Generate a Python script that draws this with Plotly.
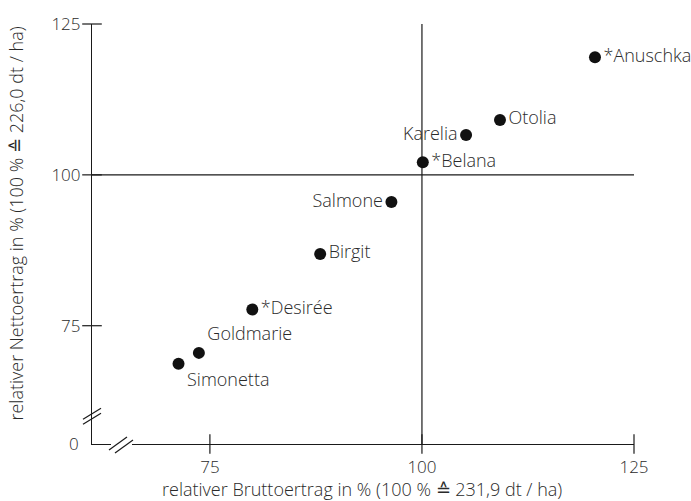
import plotly.graph_objects as go

names = ["*Anuschka", "Otolia", "Karelia", "*Belana", "Salmone", "Birgit",
         "*Desirée", "Goldmarie", "Simonetta"]
brutto = [120.4, 109.2, 105.2, 100.1, 96.4, 88.0, 80.0, 73.7, 71.3]
netto = [119.5, 109.1, 106.6, 102.1, 95.5, 86.9, 77.7, 70.5, 68.7]
label_pos = ["middle right", "middle right", "middle left", "middle right",
             "middle left", "middle right", "middle right", "top right",
             "bottom right"]
tick_vals = [75, 100, 125]

FONT = "Open Sans"
TXT = "#2a2a2a"
LINE = "#1a1a1a"
FS = 17

x_range = [61.1, 125]
y_range = [55.4, 125]

# plot area in px
L, R, T, B = 92, 634, 21, 444
W, H = 691, 501


def px(xp):
    return (xp - L) / (R - L)


def py(yp):
    return (B - yp) / (B - T)


fig = go.Figure()
fig.add_trace(go.Scatter(
    x=brutto, y=netto, mode="markers+text", text=names,
    textposition=label_pos,
    textfont=dict(family=FONT, size=18, color=TXT, weight=300),
    marker=dict(size=12, color="#111111"),
    cliponaxis=False, hoverinfo="skip", showlegend=False))

# tick marks crossing the axis lines (drawn as line markers on the axes)
fig.add_trace(go.Scatter(
    x=tick_vals, y=[y_range[0]] * len(tick_vals), mode="markers",
    marker=dict(symbol="line-ns", size=14,
                line=dict(color=LINE, width=1.2)),
    cliponaxis=False, hoverinfo="skip", showlegend=False))
fig.add_trace(go.Scatter(
    x=[x_range[0]] * len(tick_vals), y=tick_vals, mode="markers",
    marker=dict(symbol="line-ew", size=14,
                line=dict(color=LINE, width=1.2)),
    cliponaxis=False, hoverinfo="skip", showlegend=False))

axis_common = dict(showgrid=False, zeroline=False, tickvals=tick_vals,
                   ticks="outside", ticklen=7, tickcolor="rgba(0,0,0,0)",
                   showline=True, linecolor=LINE, linewidth=1.2,
                   tickfont=dict(family=FONT, size=FS, color=TXT, weight=300))

fig.update_layout(
    width=W, height=H,
    margin=dict(l=L, r=W - R, t=T, b=H - B),
    paper_bgcolor="white", plot_bgcolor="white",
    xaxis=dict(range=x_range, **axis_common),
    yaxis=dict(range=y_range, **axis_common),
)

# reference lines at 100 %
fig.add_hline(y=100, line=dict(color=LINE, width=1.2), layer="below")
fig.add_vline(x=100, line=dict(color=LINE, width=1.2), layer="below")

# axis break on x axis: white gap + two slashes
fig.add_shape(type="rect", xref="paper", yref="paper",
              x0=px(111), x1=px(132), y0=py(447), y1=py(441),
              fillcolor="white", line=dict(width=0), layer="above")
for dx in (0, 6):
    fig.add_shape(type="line", xref="paper", yref="paper",
                  x0=px(109 + dx), y0=py(450 + dx * 0.5),
                  x1=px(127 + dx), y1=py(437 + dx * 0.5),
                  line=dict(color=LINE, width=1.2), layer="above")
# axis break on y axis: two slashes
for dy in (0, 5):
    fig.add_shape(type="line", xref="paper", yref="paper",
                  x0=px(83), y0=py(419 + dy), x1=px(101), y1=py(408 + dy),
                  line=dict(color=LINE, width=1.2), layer="above")

# "0" label at the broken corner
fig.add_annotation(x=px(81), y=py(443), xref="paper", yref="paper",
                   text="0", showarrow=False, xanchor="right",
                   yanchor="middle",
                   font=dict(family=FONT, size=FS, color=TXT, weight=300))

# axis titles
fig.add_annotation(x=px(362), y=py(489), xref="paper", yref="paper",
                   text="relativer Bruttoertrag in % (100 % ≙ 231,9 dt / ha)",
                   showarrow=False, xanchor="center", yanchor="middle",
                   font=dict(family=FONT, size=18, color=TXT, weight=300))
fig.add_annotation(x=px(16), y=py(222), xref="paper", yref="paper",
                   text="relativer Nettoertrag in % (100 % ≙ 226,0 dt / ha)",
                   showarrow=False, textangle=-90, xanchor="center",
                   yanchor="middle",
                   font=dict(family=FONT, size=18, color=TXT, weight=300))

fig.write_html("out.html", config={"displayModeBar": False},
               post_script="document.body.style.margin='0';"
                           "document.body.style.padding='0';")
